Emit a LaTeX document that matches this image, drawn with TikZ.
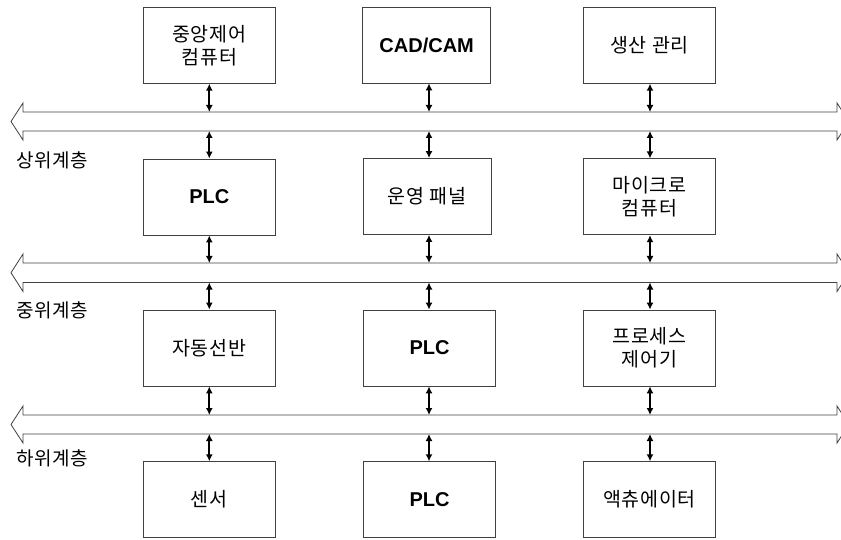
\documentclass[tikz,border=0pt]{standalone}
\usepackage{fontspec}
\setmainfont{Liberation Sans}
\newfontfamily\kr{Noto Sans CJK KR}[LetterSpace=4]
\usetikzlibrary{arrows.meta}
\tikzset{
  box/.style={draw=black!75, line width=0.8pt, minimum width=132pt, minimum height=76pt,
    inner sep=0pt, align=center, font=\kr\fontsize{19.5}{23}\selectfont},
  nbox/.style={box, minimum width=128pt},
  lbox/.style={box, font=\bfseries\fontsize{20}{24}\selectfont},
  conn/.style={line width=2.2pt, {Latex[length=7pt,width=7pt]}-{Latex[length=7pt,width=7pt]}},
  bus/.style={draw=black!75, line width=0.8pt},
  layer/.style={anchor=west, inner sep=0pt, font=\kr\fontsize{19}{20}\selectfont},
}
\begin{document}
\begin{tikzpicture}[x=1pt,y=-1pt]
\useasboundingbox (0,0) rectangle (841,540);
% buses
\begin{scope}
\clip (0,0) rectangle (841,540);
\foreach \yu/\yl in {112/131, 263/282.5, 415/434}{
  \draw[bus] (837,\yu) -- (23,\yu) -- (23,{\yu-9}) -- (11,{(\yu+\yl)/2}) -- (23,{\yl+9})
    -- (23,\yl) -- (837,\yl) -- (837,{\yl+9}) -- (849,{(\yu+\yl)/2}) -- (837,{\yu-9}) -- cycle;
}
\end{scope}
% bus attachment points
\foreach \n/\yu/\yl in {1/112/131, 2/263/282.5, 3/415/434}{
  \coordinate (u\n a) at (209.3,\yu); \coordinate (l\n a) at (209.3,\yl);
  \coordinate (u\n b) at (429,\yu);   \coordinate (l\n b) at (429,\yl);
  \coordinate (u\n c) at (650,\yu);   \coordinate (l\n c) at (650,\yl);
}
% layer labels
\node[layer] (L1) at (16,160) {상위계층};
\node[layer] (L2) at (16,310) {중위계층};
\node[layer] (L3) at (16,458) {하위계층};
% boxes
\node[box]  (a1) at (209.3,45.3) {중앙제어\\컴퓨터};
\node[nbox,font=\bfseries\fontsize{20}{24}\selectfont] (a2) at (426.7,45) {CAD/CAM};
\node[box]  (a3) at (649.5,45.3) {생산 관리};
\node[lbox] (b1) at (209.3,197) {PLC};
\node[nbox] (b2) at (427,196.5) {운영 패널};
\node[box]  (b3) at (649.5,196.8) {마이크로\\컴퓨터};
\node[box]  (c1) at (209.3,348) {자동선반};
\node[lbox] (c2) at (429.5,348) {PLC};
\node[box]  (c3) at (649.5,348) {프로세스\\제어기};
\node[box]  (d1) at (209.3,499.7) {센서};
\node[lbox] (d2) at (429.5,499.7) {PLC};
\node[box]  (d3) at (649.5,499.7) {액츄에이터};
% connectors
\draw[conn] (a1.south -| u1a) -- (u1a);
\draw[conn] (a2.south -| u1b) -- (u1b);
\draw[conn] (a3.south -| u1c) -- (u1c);
\draw[conn] (l1a) -- (b1.north -| l1a);
\draw[conn] (l1b) -- (b2.north -| l1b);
\draw[conn] (l1c) -- (b3.north -| l1c);
\draw[conn] (b1.south -| u2a) -- (u2a);
\draw[conn] (b2.south -| u2b) -- (u2b);
\draw[conn] (b3.south -| u2c) -- (u2c);
\draw[conn] (l2a) -- (c1.north -| l2a);
\draw[conn] (l2b) -- (c2.north -| l2b);
\draw[conn] (l2c) -- (c3.north -| l2c);
\draw[conn] (c1.south -| u3a) -- (u3a);
\draw[conn] (c2.south -| u3b) -- (u3b);
\draw[conn] (c3.south -| u3c) -- (u3c);
\draw[conn] (l3a) -- (d1.north -| l3a);
\draw[conn] (l3b) -- (d2.north -| l3b);
\draw[conn] (l3c) -- (d3.north -| l3c);
\end{tikzpicture}
\end{document}
